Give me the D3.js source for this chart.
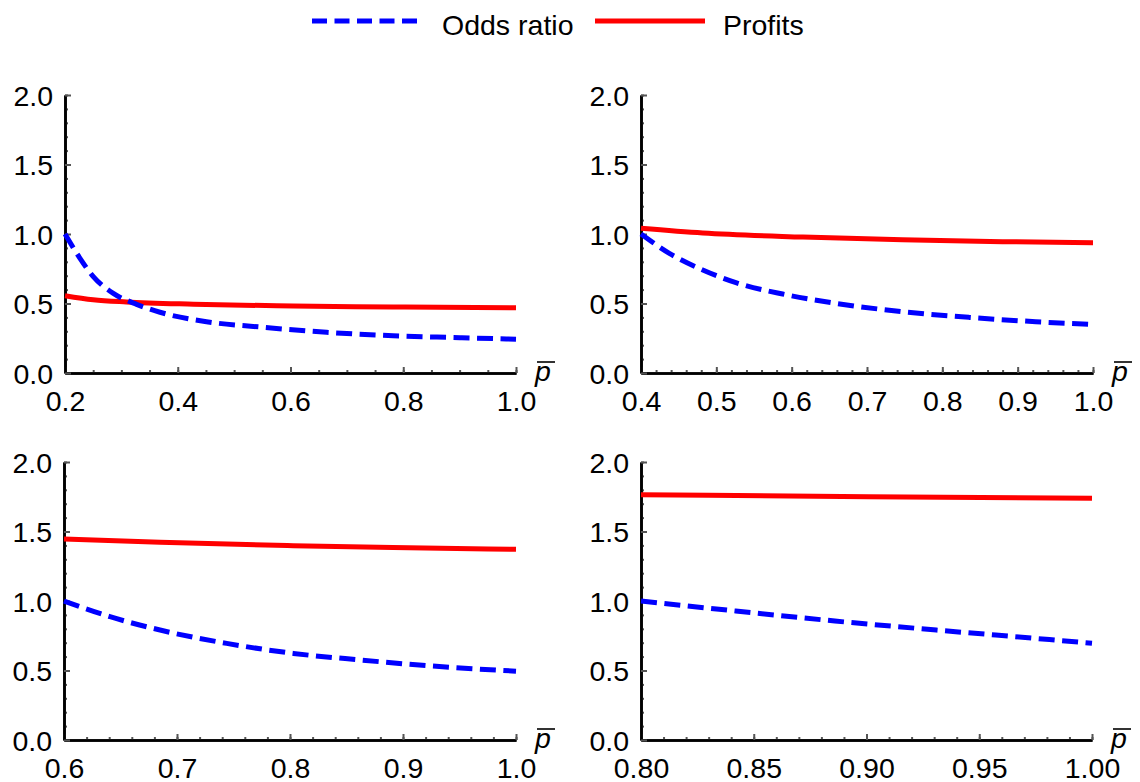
<!DOCTYPE html>
<html>
<head>
<meta charset="utf-8">
<script src="https://d3js.org/d3.v7.min.js"></script>
<style>
  body { margin: 0; background: #fff; }
  svg { display: block; font-family: "Liberation Sans", Arial, sans-serif; }
  .tick text { font-size: 28.5px; fill: #000; }
</style>
</head>
<body>
<svg width="1140" height="782"></svg>
<script>
// series, one set per panel
const seriesNames = ["Odds ratio", "Profits"]

const a_domain = [0.2, 1.0]
const a_oddsX = [0.2, 0.2266, 0.2502, 0.2857, 0.327, 0.3685, 0.451, 0.546, 0.664, 0.782, 0.9006, 1.0]
const a_oddsY = [1.0, 0.825, 0.693, 0.573, 0.494, 0.437, 0.369, 0.331, 0.293, 0.268, 0.254, 0.243]
const a_profX = [0.2, 0.25, 0.309, 0.428, 0.605, 0.782, 1.0]
const a_profY = [0.556, 0.527, 0.511, 0.495, 0.482, 0.475, 0.470]
const a_ticks = [0.2, 0.4, 0.6, 0.8, 1.0]

const b_domain = [0.4, 1.0]
const b_oddsX = [0.4, 0.4376, 0.482, 0.526, 0.588, 0.659, 0.747, 0.836, 0.924, 1.0]
const b_oddsY = [1.0, 0.861, 0.741, 0.650, 0.568, 0.501, 0.441, 0.400, 0.369, 0.350]
const b_profX = [0.4, 0.482, 0.615, 0.747, 0.880, 1.0]
const b_profY = [1.041, 1.007, 0.978, 0.958, 0.945, 0.937]
const b_ticks = [0.4, 0.5, 0.6, 0.7, 0.8, 0.9, 1.0]

const c_domain = [0.6, 1.0]
const c_oddsX = [0.6, 0.6407, 0.685, 0.744, 0.803, 0.862, 0.921, 1.0]
const c_oddsY = [1.0, 0.887, 0.791, 0.695, 0.623, 0.576, 0.535, 0.495]
const c_profX = [0.6, 0.685, 0.803, 0.891, 1.0]
const c_profY = [1.446, 1.422, 1.398, 1.384, 1.372]
const c_ticks = [0.6, 0.7, 0.8, 0.9, 1.0]

const d_domain = [0.8, 1.0]
const d_oddsX = [0.8, 0.842, 0.886, 0.931, 0.975, 1.0]
const d_oddsY = [1.0, 0.928, 0.856, 0.791, 0.731, 0.696]
const d_profX = [0.8, 0.901, 1.0]
const d_profY = [1.765, 1.750, 1.739]
const d_ticks = [0.80, 0.85, 0.90, 0.95, 1.00]

const yTicks = [0.0, 0.5, 1.0, 1.5, 2.0]

const panels = [
  { domain: a_domain, ox: a_oddsX, oy: a_oddsY, px: a_profX, py: a_profY, ticks: a_ticks, minor: 0.05, fmt: ".1f", left: 65, right: 516, top: 95, bottom: 373 },
  { domain: b_domain, ox: b_oddsX, oy: b_oddsY, px: b_profX, py: b_profY, ticks: b_ticks, minor: 0.02, fmt: ".1f", left: 641, right: 1093, top: 95, bottom: 373 },
  { domain: c_domain, ox: c_oddsX, oy: c_oddsY, px: c_profX, py: c_profY, ticks: c_ticks, minor: 0.02, fmt: ".1f", left: 64, right: 516, top: 462, bottom: 740 },
  { domain: d_domain, ox: d_oddsX, oy: d_oddsY, px: d_profX, py: d_profY, ticks: d_ticks, minor: 0.01, fmt: ".2f", left: 641, right: 1092, top: 462, bottom: 740 }
]

const svg = d3.select("svg")
const blue = "#0000ff", red = "#ff0000"
const dash = "16,7.5"

function styleAxis(g) {
  g.select(".domain").attr("stroke", "#000").attr("stroke-width", 2.6)
  g.selectAll(".tick line").attr("stroke", "#555").attr("stroke-width", 2)
}

panels.forEach((p, idx) => {
  let x = d3.scaleLinear().domain(p.domain).range([p.left, p.right])
  let y = d3.scaleLinear().domain([0, 2]).range([p.bottom, p.top])
  let g = svg.append("g").attr("class", "panel" + idx)

  // minor ticks first
  let nx = Math.round((p.domain[1] - p.domain[0]) / p.minor)
  let xMinor = d3.range(nx + 1).map(i => p.domain[0] + i * p.minor)
  g.append("g").attr("transform", `translate(0,${p.bottom})`)
    .call(d3.axisBottom(x).tickValues(xMinor).tickSize(-3).tickSizeOuter(0).tickFormat(""))
    .call(styleAxis)
  g.append("g").attr("transform", `translate(${p.left},0)`)
    .call(d3.axisLeft(y).tickValues(d3.range(21).map(i => i / 10)).tickSize(-3).tickSizeOuter(0).tickFormat(""))
    .call(styleAxis)

  let xAxis = g.append("g").attr("transform", `translate(0,${p.bottom})`)
    .call(d3.axisBottom(x).tickValues(p.ticks).tickSize(-6).tickSizeOuter(0).tickPadding(18).tickFormat(d3.format(p.fmt)))
    .call(styleAxis)
  xAxis.attr("font-family", null).attr("font-size", null)

  let yAxis = g.append("g").attr("transform", `translate(${p.left},0)`)
    .call(d3.axisLeft(y).tickValues(yTicks).tickSize(-6).tickSizeOuter(0).tickPadding(12).tickFormat(d3.format(".1f")))
    .call(styleAxis)
  yAxis.attr("font-family", null).attr("font-size", null)
  yAxis.selectAll(".tick text").attr("dy", "0.36em")

  // axis label p-bar
  let lab = g.append("g").attr("transform", `translate(${p.right + 19},${p.bottom})`)
  lab.append("text").attr("x", 0).attr("y", 8)
    .attr("font-size", 28.5).attr("font-style", "italic").text("p")
  lab.append("line").attr("x1", 2).attr("x2", 20).attr("y1", -11).attr("y2", -11)
    .attr("stroke", "#000").attr("stroke-width", 1.6)

  let line = d3.line().x(d => x(d[0])).y(d => y(d[1])).curve(d3.curveMonotoneX)

  g.append("path").datum(d3.zip(p.px, p.py))
    .attr("d", line).attr("fill", "none").attr("stroke", red).attr("stroke-width", 5)
  g.append("path").datum(d3.zip(p.ox, p.oy))
    .attr("d", line).attr("fill", "none").attr("stroke", blue).attr("stroke-width", 5)
    .attr("stroke-dasharray", dash)
})

// legend
const legend = svg.append("g")
const legendItems = [
  { name: seriesNames[0], color: blue, dash: "15,7.5", x1: 312, x2: 418, tx: 442 },
  { name: seriesNames[1], color: red, dash: null, x1: 595, x2: 705, tx: 723 }
]
legendItems.forEach(d => {
  legend.append("line").attr("x1", d.x1).attr("x2", d.x2).attr("y1", 21).attr("y2", 21)
    .attr("stroke", d.color).attr("stroke-width", 5).attr("stroke-dasharray", d.dash)
  legend.append("text").attr("x", d.tx).attr("y", 35).attr("font-size", 28.5).text(d.name)
})
</script>
</body>
</html>
